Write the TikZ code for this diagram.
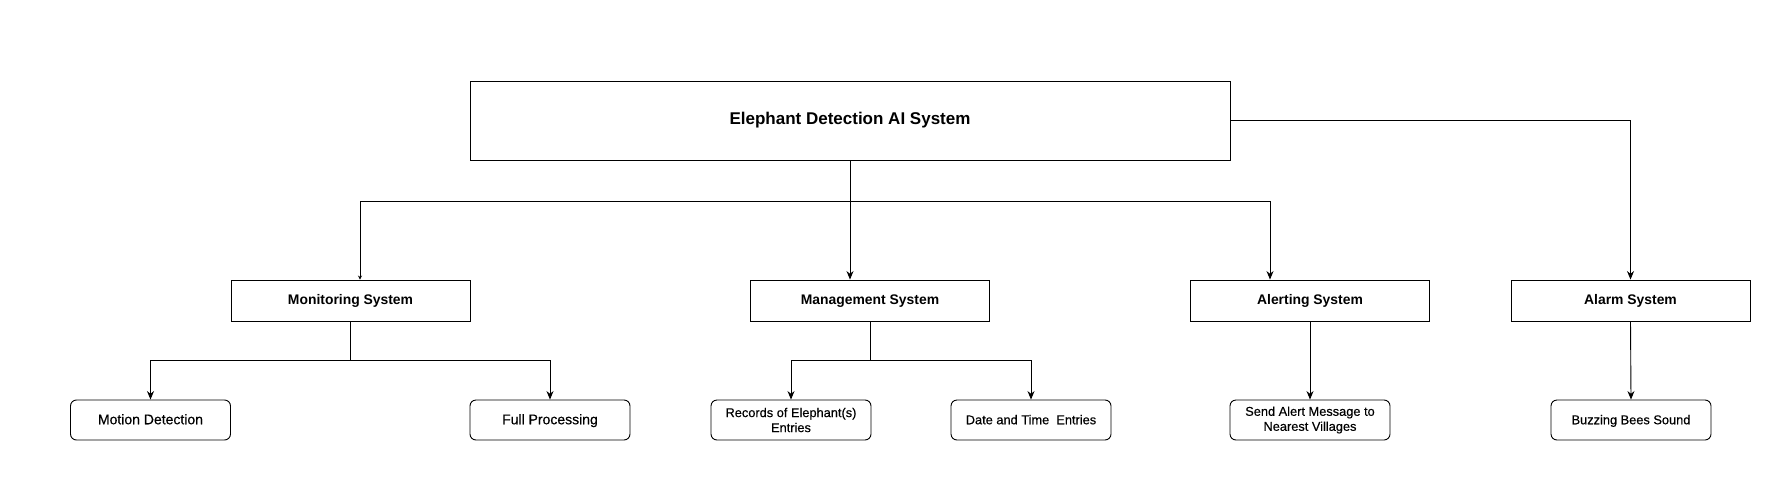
\documentclass[tikz,border=0pt]{standalone}
\usepackage{fontspec}
\setmainfont{Liberation Sans}
\newfontfamily\leaffont[FakeBold=0.35]{Liberation Sans}
\usetikzlibrary{arrows.meta}
\tikzset{
  topbox/.style={draw, line width=0.9pt, minimum width=760pt, minimum height=79pt, font=\fontsize{17}{20}\selectfont\bfseries, inner sep=0pt},
  sysbox/.style={draw, line width=0.9pt, minimum width=239pt, minimum height=41pt, font=\fontsize{13.9}{16}\selectfont\bfseries, inner sep=0pt, text height=0.9em, text depth=0.05em},
  leafbox/.style={draw, line width=0.9pt, rounded corners=6pt, minimum width=160pt, minimum height=40pt, font=\leaffont\fontsize{12.8}{15}\selectfont, align=center, inner sep=0pt},
  oneline/.style={text height=0.9em, text depth=0.05em},
  bigleaf/.style={font=\leaffont\fontsize{14}{16}\selectfont},
  conn/.style={line width=0.9pt},
  arr/.style={line width=0.9pt, -{Stealth[length=8.5pt,width=7pt]}}
}
\begin{document}
\begin{tikzpicture}[x=1pt,y=-1pt]
\path[use as bounding box] (0,0) rectangle (1781,501);
\node[topbox] (top) at (850,120.5) {Elephant Detection AI System};

\node[sysbox] (mon) at (350.5,300.5) {Monitoring System};
\node[sysbox] (man) at (870,300.5) {Management System};
\node[sysbox] (ale) at (1310,300.5) {Alerting System};
\node[sysbox] (ala) at (1630.5,300.5) {Alarm System};

\node[leafbox, bigleaf, oneline] (mot) at (150.5,420) {Motion Detection};
\node[leafbox, bigleaf, oneline] (ful) at (550,420) {Full Processing};
\node[leafbox] (rec) at (791,420) {Records of Elephant(s)\\Entries};
\node[leafbox, oneline] (dat) at (1031,420) {Date and Time\ \ Entries};
\node[leafbox] (sen) at (1310,420) {Send Alert Message to\\Nearest Villages};
\node[leafbox, oneline] (buz) at (1631,420) {Buzzing Bees Sound};

% top to row 2
\coordinate (bus) at (850,201);
\coordinate (busl) at (360,201);
\coordinate (busr) at (1270,201);
\draw[conn] (top.south) -- (bus);
\draw[arr] (bus) -- (bus |- man.north);
\draw[conn] (bus) -- (busl);
\draw[line width=0.9pt, -{Stealth[length=4pt,width=4pt]}] (busl) -- (busl |- mon.north);
\draw[arr] (bus) -- (busr) -- (busr |- ale.north);
\draw[arr] (top.east) -| (ala.north);

% monitoring
\coordinate (mb) at (350.5,360);
\draw[conn] (mon.south) -- (mb);
\draw[arr] (mb) -| (mot.north);
\draw[arr] (mb) -| (ful.north);

% management
\coordinate (nb) at (870,360);
\draw[conn] (man.south) -- (nb);
\draw[arr] (nb) -| (rec.north);
\draw[arr] (nb) -| (dat.north);

% alerting / alarm
\draw[arr] (ale.south) -- (sen.north);
\draw[arr] (ala.south) -- (buz.north);
\end{tikzpicture}
\end{document}
